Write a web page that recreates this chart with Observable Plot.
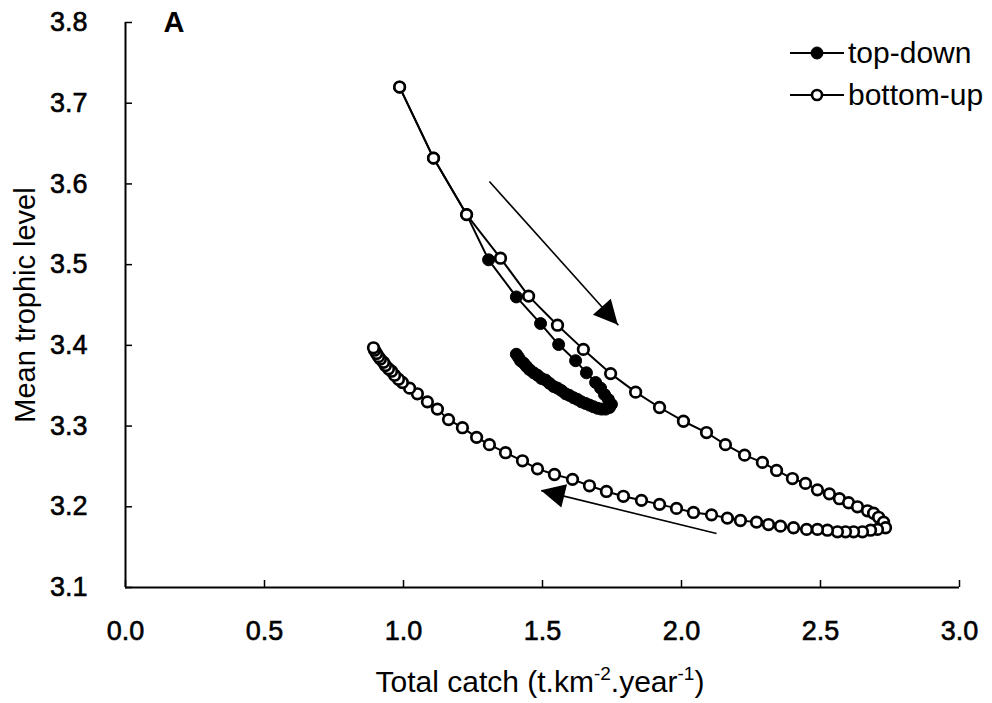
<!DOCTYPE html>
<html><head><meta charset="utf-8">
<script src="https://cdn.jsdelivr.net/npm/d3@7"></script>
<script src="https://cdn.jsdelivr.net/npm/@observablehq/plot@0.6"></script>
<style>
body{margin:0;background:#fff;}
#wrap{position:relative;width:992px;height:703px;font-family:"Liberation Sans",Arial,sans-serif;color:#000;}
.legend{position:absolute;left:788px;top:32px;font-size:30px;line-height:42px;}
.legend .row{display:flex;align-items:center;height:42px;}
.legend svg{width:58px;height:20px;margin-right:2px;overflow:visible;}
g[aria-label$="tick label"] text{stroke:#000;stroke-width:0.6px;}
</style></head><body><div id="wrap"></div>
<script>
// Total catch (t.km-2.year-1) and mean trophic level, top-down scenario
const topDownCatch = [0.986,1.108,1.227,1.306,1.406,1.493,1.558,1.619,1.658,1.691,1.709,1.723,1.737,1.748,
  1.741,1.727,1.712,1.698,1.683,1.669,1.655,1.640,1.626,1.612,1.597,1.583,1.568,1.554,1.540,1.525,1.511,1.496,1.482,1.468,1.453,1.442,1.432,1.421,1.414,1.406];
const topDownTL    = [3.720,3.632,3.562,3.506,3.460,3.427,3.401,3.381,3.366,3.354,3.347,3.339,3.333,3.327,
  3.323,3.321,3.321,3.322,3.324,3.326,3.328,3.330,3.333,3.335,3.338,3.340,3.344,3.347,3.349,3.353,3.357,3.359,3.363,3.366,3.370,3.374,3.378,3.381,3.385,3.389];
// bottom-up scenario
const bottomUpCatch = [0.986,1.108,1.227,1.349,1.450,1.554,1.647,1.745,1.835,1.921,2.007,2.090,2.158,2.227,2.291,2.342,2.399,2.446,2.489,2.532,2.568,2.601,2.633,2.669,2.691,2.709,2.727,2.734,
  2.705,2.680,2.651,2.619,2.590,2.561,2.525,2.489,2.450,2.403,2.356,2.313,2.270,2.212,2.165,2.108,2.043,1.982,1.921,1.856,1.791,1.730,1.669,1.608,1.543,1.482,1.428,1.367,1.309,1.263,1.212,1.162,1.122,1.086,1.050,1.022,0.996,0.982,
  0.968,0.957,0.946,0.935,0.928,0.917,0.910,0.903,0.896,0.892];
const bottomUpTL = [3.720,3.632,3.562,3.508,3.461,3.425,3.395,3.365,3.342,3.323,3.306,3.292,3.277,3.264,3.255,3.245,3.235,3.229,3.221,3.216,3.210,3.205,3.200,3.195,3.192,3.187,3.181,3.174,
  3.172,3.171,3.169,3.169,3.169,3.169,3.171,3.172,3.172,3.174,3.176,3.178,3.181,3.183,3.186,3.190,3.193,3.198,3.203,3.208,3.213,3.219,3.226,3.234,3.240,3.247,3.257,3.267,3.277,3.286,3.298,3.308,3.321,3.330,3.340,3.347,3.354,3.358,
  3.363,3.368,3.371,3.375,3.379,3.383,3.386,3.390,3.394,3.397];
// direction arrows (start -> tip)
const arrowStartCatch = [1.309, 2.126];
const arrowStartTL    = [3.603, 3.167];
const arrowEndCatch   = [1.773, 1.496];
const arrowEndTL      = [3.425, 3.220];
const xTicks = [0, 0.5, 1.0, 1.5, 2.0, 2.5, 3.0];
const yTicks = [3.1, 3.2, 3.3, 3.4, 3.5, 3.6, 3.7, 3.8];
const seriesNames = ["top-down", "bottom-up"];
const panelLetter = "A";

const topDown = topDownCatch.map((x, i) => ({x, y: topDownTL[i]}));
const bottomUp = bottomUpCatch.map((x, i) => ({x, y: bottomUpTL[i]}));
const arrows = arrowStartCatch.map((x1, i) => ({x1, y1: arrowStartTL[i], x2: arrowEndCatch[i], y2: arrowEndTL[i]}));

const W = 992, H = 703, mL = 125, mR = 33, mT = 22, mB = 116;
const innerW = W - mL - mR, innerH = H - mT - mB;

function arrowHeads(index, scales) {
  const g = d3.create("svg:g");
  for (const a of arrows) {
    const x1 = scales.x(a.x1), y1 = scales.y(a.y1), x2 = scales.x(a.x2), y2 = scales.y(a.y2);
    const L = Math.hypot(x2 - x1, y2 - y1), ux = (x2 - x1) / L, uy = (y2 - y1) / L;
    const hl = 24, hw = 12;
    const bx = x2 - ux * hl, by = y2 - uy * hl;
    g.append("path")
      .attr("d", `M${x2},${y2}L${bx - uy * hw},${by + ux * hw}L${bx + uy * hw},${by - ux * hw}Z`)
      .attr("fill", "black");
  }
  return g.node();
}

const chart = Plot.plot({
  width: W, height: H,
  marginLeft: mL, marginRight: mR, marginTop: mT, marginBottom: mB,
  style: {fontFamily: '"Liberation Sans", Arial, sans-serif', fontSize: "27px", color: "#000", background: "#fff"},
  x: {domain: [0, 3]},
  y: {domain: [3.1, 3.8]},
  marks: [
    Plot.axisX({ticks: xTicks, tickFormat: d3.format(".1f"), tickSize: 0, tickPadding: 33, label: null, fontSize: 27}),
    Plot.axisY({ticks: yTicks, tickFormat: d3.format(".1f"), tickSize: 0, tickPadding: 38, label: null, fontSize: 27}),
    Plot.axisY({ticks: [], tickSize: 0, label: "Mean trophic level", labelAnchor: "center", labelArrow: "none", labelOffset: 111, fontSize: 29}),
    Plot.tickX(xTicks, {x: d => d, insetTop: innerH - 7, stroke: "black", strokeWidth: 1.5}),
    Plot.tickY(yTicks, {y: d => d, insetRight: innerW - 7, stroke: "black", strokeWidth: 1.5}),
    Plot.ruleX([0], {stroke: "black", strokeWidth: 2}),
    Plot.ruleY([3.1], {stroke: "black", strokeWidth: 2}),
    Plot.text([panelLetter], {frameAnchor: "top-left", dx: 38, dy: -11, fontWeight: "bold", fontSize: 29, text: d => d}),
    Plot.link(arrows, {x1: "x1", y1: "y1", x2: "x2", y2: "y2", stroke: "black", strokeWidth: 1.6}),
    arrowHeads,
    Plot.line(topDown, {x: "x", y: "y", stroke: "black", strokeWidth: 2}),
    Plot.dot(topDown, {x: "x", y: "y", r: 6, fill: "black", stroke: "black", strokeWidth: 1}),
    Plot.line(bottomUp, {x: "x", y: "y", stroke: "black", strokeWidth: 2}),
    Plot.dot(bottomUp, {x: "x", y: "y", r: 5.3, fill: "white", stroke: "black", strokeWidth: 2.7})
  ]
});

const wrap = document.getElementById("wrap");
wrap.appendChild(chart);

// x-axis title with superscripts
const svg = d3.select(chart);
const t = svg.append("text")
  .attr("x", 540)
  .attr("y", 692)
  .attr("text-anchor", "middle")
  .attr("font-size", 30)
  .attr("fill", "black");
t.append("tspan").text("Total catch (t.km");
t.append("tspan").attr("font-size", 19).attr("dy", -12).text("-2");
t.append("tspan").attr("dy", 12).text(".year");
t.append("tspan").attr("font-size", 19).attr("dy", -12).text("-1");
t.append("tspan").attr("dy", 12).text(")");

// legend
const legend = document.createElement("div");
legend.className = "legend";
legend.innerHTML = seriesNames.map((name, i) => `
  <div class="row"><svg viewBox="0 0 58 20"><line x1="2" y1="10" x2="56" y2="10" stroke="black" stroke-width="2"/>
  <circle cx="29" cy="10" r="${i === 0 ? 6 : 5}" fill="${i === 0 ? "black" : "white"}" stroke="black" stroke-width="${i === 0 ? 1 : 2.6}"/></svg>
  <span>${name}</span></div>`).join("");
wrap.appendChild(legend);
</script>
</body></html>
